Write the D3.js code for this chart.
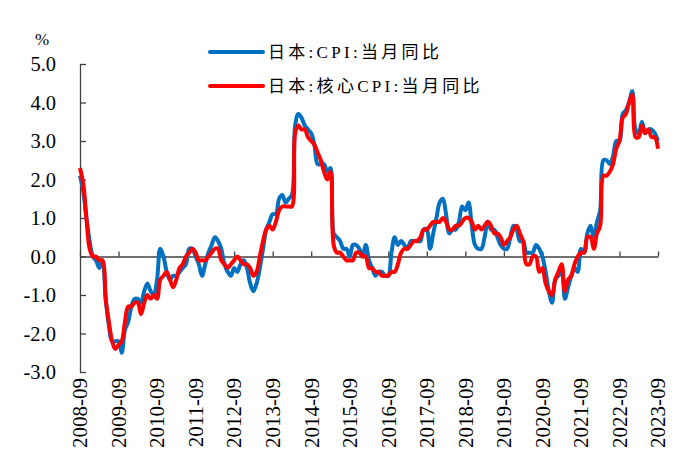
<!DOCTYPE html>
<html>
<head>
<meta charset="utf-8">
<script src="https://cdn.jsdelivr.net/npm/d3@7"></script>
<style>
html, body { margin: 0; padding: 0; background: #fff; }
#chart { width: 678px; height: 466px; }
</style>
</head>
<body>
<div id="chart"></div>
<script>
// months run 2008-09 .. 2023-09, one value per month
var startYear = 2008, startMonth = 9;
var tickLabels = ["2008-09", "2009-09", "2010-09", "2011-09", "2012-09", "2013-09", "2014-09", "2015-09",
    "2016-09", "2017-09", "2018-09", "2019-09", "2020-09", "2021-09", "2022-09", "2023-09"];
var yTicks = [-3, -2, -1, 0, 1, 2, 3, 4, 5];
var seriesNames = ["日本:CPI:当月同比", "日本:核心CPI:当月同比"];

var cpi = [
    2.1, 1.7, 1.0, 0.4,
    0.0, -0.1, -0.3, -0.1, -1.1, -1.8, -2.2, -2.2, -2.2, -2.5, -1.9, -1.7,
    -1.3, -1.1, -1.1, -1.2, -0.9, -0.7, -0.9, -1.0, -0.6, 0.2, 0.0, -0.4,
    -0.6, -0.5, -0.5, -0.4, -0.3, -0.2, 0.2, 0.2, 0.0, -0.2, -0.5, -0.2,
    0.1, 0.3, 0.5, 0.4, 0.2, -0.2, -0.4, -0.5, -0.3, -0.4, -0.2, -0.1,
    -0.3, -0.7, -0.9, -0.7, -0.3, 0.2, 0.7, 0.9, 1.1, 1.1, 1.5, 1.6,
    1.4, 1.5, 1.6, 3.4, 3.7, 3.6, 3.4, 3.3, 3.2, 2.9, 2.4, 2.4,
    2.4, 2.2, 2.3, 0.6, 0.5, 0.4, 0.2, 0.2, 0.0, 0.3, 0.3, 0.2,
    0.0, 0.3, -0.1, -0.3, -0.5, -0.4, -0.4, -0.5, -0.5, 0.1, 0.5, 0.3,
    0.4, 0.3, 0.2, 0.4, 0.4, 0.4, 0.4, 0.7, 0.7, 0.2, 0.6, 1.0,
    1.4, 1.5, 1.1, 0.6, 0.7, 0.7, 0.9, 1.3, 1.2, 1.4, 0.8, 0.3,
    0.2, 0.2, 0.5, 0.9, 0.7, 0.7, 0.5, 0.3, 0.2, 0.2, 0.5, 0.8,
    0.7, 0.4, 0.4, 0.1, 0.1, 0.1, 0.3, 0.2, 0.0, -0.4, -0.9, -1.2,
    -0.6, -0.5, -0.4, -1.1, -0.8, -0.5, -0.3, -0.4, 0.2, 0.1, 0.6, 0.8,
    0.5, 0.9, 1.2, 2.5, 2.5, 2.4, 2.6, 3.0, 3.0, 3.7, 3.8, 4.0,
    4.3, 3.3, 3.2, 3.5, 3.2, 3.3, 3.3, 3.2, 3.0
];
var coreCpi = [
    2.3, 1.9, 1.0, 0.2,
    0.0, 0.0, -0.1, -0.1, -1.1, -1.7, -2.2, -2.4, -2.3, -2.2, -1.7, -1.3,
    -1.3, -1.2, -1.2, -1.5, -1.2, -1.0, -1.1, -1.0, -1.1, -0.6, -0.5, -0.4,
    -0.6, -0.8, -0.6, -0.3, -0.2, 0.0, 0.1, 0.2, 0.1, -0.1, -0.1, -0.1,
    0.0, 0.1, 0.2, 0.2, -0.1, -0.2, -0.3, -0.2, -0.1, 0.0, -0.1, -0.2,
    -0.2, -0.3, -0.5, -0.4, 0.0, 0.4, 0.7, 0.8, 0.7, 0.9, 1.2, 1.3,
    1.3, 1.3, 1.3, 3.2, 3.4, 3.3, 3.3, 3.1, 3.0, 2.9, 2.7, 2.5,
    2.2, 2.0, 2.2, 0.3, 0.1, 0.1, 0.0, -0.1, -0.1, -0.1, 0.1, 0.1,
    0.0, 0.0, -0.3, -0.3, -0.4, -0.4, -0.5, -0.5, -0.5, -0.4, -0.4, -0.2,
    0.1, 0.2, 0.2, 0.3, 0.4, 0.4, 0.5, 0.7, 0.7, 0.8, 0.9, 0.9,
    0.9, 1.0, 0.9, 0.7, 0.7, 0.8, 0.8, 0.9, 1.0, 1.0, 0.9, 0.7,
    0.8, 0.7, 0.8, 0.9, 0.8, 0.6, 0.6, 0.5, 0.3, 0.4, 0.5, 0.7,
    0.8, 0.6, 0.4, -0.2, -0.2, 0.0, 0.0, -0.4, -0.3, -0.7, -0.9, -1.0,
    -0.6, -0.4, -0.2, -0.9, -0.6, -0.5, -0.2, 0.0, 0.1, 0.1, 0.5, 0.5,
    0.2, 0.6, 0.8, 2.1, 2.1, 2.2, 2.4, 2.8, 3.0, 3.6, 3.7, 4.0,
    4.2, 3.1, 3.1, 3.4, 3.2, 3.3, 3.1, 3.1, 2.8
];

var colors = ["#0070C0", "#FF0000"],
    serif = "'Liberation Serif', 'Times New Roman', 'DejaVu Serif', serif",
    cjk = "'Liberation Serif', 'Times New Roman', 'Noto Sans CJK SC', serif",
    width = 678,
    height = 466,
    margin = { top: 64, right: 20, bottom: 94, left: 80 }; // plot box 80..658 x 64..372

var svg = d3.select("#chart").append("svg")
    .attr("width", width)
    .attr("height", height)
    .style("background", "#fff");

var x = d3.scaleLinear()
    .domain([0, cpi.length - 1])
    .range([margin.left, 658]);
var y = d3.scaleLinear()
    .domain([-3, 5])
    .range([height - margin.bottom, margin.top]);

// index of each tick label in the monthly series
function labelIndex(lbl) {
    var yr = parseInt(lbl.slice(0, 4), 10), mo = parseInt(lbl.slice(5), 10);
    return (yr - startYear) * 12 + (mo - startMonth);
}
var tickIdx = tickLabels.map(labelIndex);

// y axis, ticks pointing into the plot
var yAxis = svg.append("g")
    .attr("class", "axis")
    .attr("transform", "translate(" + margin.left + ",0)")
    .call(d3.axisLeft(y)
        .tickValues(yTicks)
        .tickSizeInner(-6)
        .tickSizeOuter(0)
        .tickPadding(24)
        .tickFormat(function (d) { return d.toFixed(1); }));
yAxis.attr("font-family", null).attr("font-size", null);
yAxis.selectAll("text")
    .attr("fill", "#000")
    .style("font-family", serif)
    .style("font-size", "20.5px");

// x axis sits on the zero line, ticks pointing up
var xAxis = svg.append("g")
    .attr("class", "axis")
    .attr("transform", "translate(0," + y(0) + ")")
    .call(d3.axisBottom(x)
        .tickValues(tickIdx)
        .tickSizeInner(-5)
        .tickSizeOuter(0)
        .tickFormat(""));

svg.selectAll(".axis path, .axis line")
    .attr("stroke", "#404040")
    .attr("stroke-width", 1.3);

// date labels at the bottom, rotated
svg.append("g")
    .selectAll(".xLabel")
    .data(tickLabels)
    .enter().append("text")
    .attr("class", "xLabel")
    .text(function (d) { return d; })
    .attr("transform", function (d, i) {
        return "translate(" + x(tickIdx[i]) + "," + 378 + ") rotate(-90)";
    })
    .attr("dy", "0.35em")
    .style("text-anchor", "end")
    .style("font-family", serif)
    .style("font-size", "21px");

svg.append("text")
    .attr("class", "unit")
    .attr("x", 42)
    .attr("y", 45)
    .style("text-anchor", "middle")
    .style("font-family", serif)
    .style("font-size", "17px")
    .text("%");

var line = d3.line()
    .x(function (d, i) { return x(i); })
    .y(function (d) { return y(d); })
    .curve(d3.curveCatmullRom);

[cpi, coreCpi].forEach(function (s, k) {
    svg.append("path")
        .datum(s)
        .attr("fill", "none")
        .attr("stroke", colors[k])
        .attr("stroke-width", 4)
        .attr("stroke-linejoin", "round")
        .attr("d", line);
});

// legend
var legendY = [52, 86];
var legend = svg.selectAll(".legend")
    .data(seriesNames)
    .enter().append("g")
    .attr("class", "legend");
legend.append("line")
    .attr("x1", 210).attr("x2", 263)
    .attr("y1", function (d, i) { return legendY[i]; })
    .attr("y2", function (d, i) { return legendY[i]; })
    .attr("stroke", function (d, i) { return colors[i]; })
    .attr("stroke-width", 4)
    .attr("stroke-linecap", "round");
legend.append("text")
    .attr("x", 268)
    .attr("y", function (d, i) { return legendY[i]; })
    .attr("dy", "0.35em")
    .style("font-family", cjk)
    .style("font-size", "17px")
    .style("letter-spacing", "3.3px")
    .text(function (d) { return d; });
</script>
</body>
</html>
